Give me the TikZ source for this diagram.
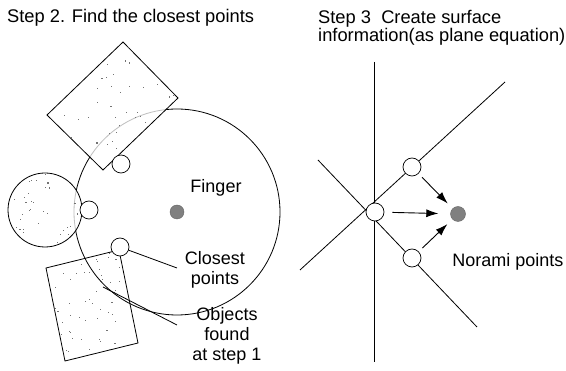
\documentclass[tikz,border=0pt]{standalone}
\usepackage{fontspec}
\setmainfont{Liberation Sans}
\usetikzlibrary{arrows.meta}
\begin{document}
\begin{tikzpicture}[x=1pt,y=-1pt,
  obj/.style={draw=black, line width=0.8pt, fill=white, fill opacity=0.75},
  cp/.style={circle, draw, fill=white, minimum size=18pt, inner sep=0pt, line width=0.7pt},
  fdot/.style={circle, fill=black!50, draw=black!60, minimum size=15pt, inner sep=0pt},
  lbl/.style={font=\fontsize{18}{20}\selectfont, align=center, inner sep=0pt},
  ttl/.style={font=\fontsize{18.3}{18.5}\selectfont, align=left, inner sep=0pt},
  ln/.style={line width=0.8pt},
  speck/.style={fill=black!55},
  arr/.style={line width=0.9pt, -{Latex[length=12pt,width=8pt]}}]
\useasboundingbox (0,0) rectangle (566,371);
\pgfmathsetseed{7}
% ---------- titles
\node[ttl, anchor=base west] (t1) at (7,23) {Step 2. Find the closest points};
\node[ttl, anchor=north west] (t2) at (318,10) {Step 3\ \ Create surface\\information(as plane equation)};
% ---------- left: objects and finger
\node[fdot, minimum size=14pt] (finger) at (177,212) {};
\draw[obj] (46,268) -- (119,250) -- (138,343) -- (65,361) -- cycle;
\begin{scope}
\clip (46,268) -- (119,250) -- (138,343) -- (65,361) -- cycle;
\foreach \i in {1,...,70} {\fill[speck] (92+46*rand,305+56*rand) rectangle ++(1.1,1.1);}
\end{scope}
\draw[ln] (finger) circle (103pt);
\draw[obj] (123,42) -- (178,98) -- (103,170) -- (47,115) -- cycle;
\begin{scope}
\clip (123,42) -- (178,98) -- (103,170) -- (47,115) -- cycle;
\foreach \i in {1,...,80} {\fill[speck] (112+66*rand,106+64*rand) rectangle ++(1.1,1.1);}
\end{scope}
\draw[obj] (45,210) circle (37pt);
\begin{scope}
\clip (45,210) circle (36pt);
\foreach \i in {1,...,45} {\fill[speck] (45+37*rand,210+37*rand) rectangle ++(1.1,1.1);}
\end{scope}
\node[cp] (cp1) at (121,164) {};
\node[cp] (cp2) at (89,210) {};
\node[cp] (cp3) at (120,247) {};
\node[lbl] (lfinger) at (216,188) {Finger};
\node[lbl] (lclosest) at (215,270) {Closest\\points};
\node[lbl] (lobj) at (227,336) {Objects\\found\\at step 1};
\coordinate (lc1) at (177,268);
\coordinate (o1) at (103,287);
\coordinate (o2) at (177,325);
\draw[ln] (cp3) -- (lc1);
\draw[ln] (o1) -- (o2);
% ---------- right: planes
\coordinate (vt) at (374,62);
\coordinate (vb) at (374,362);
\coordinate (a1) at (505,82);
\coordinate (a2) at (300,270);
\coordinate (b1) at (318,160);
\coordinate (b2) at (477,327);
\draw[ln] (vt) -- (vb);
\draw[ln] (a1) -- (a2);
\draw[ln] (b1) -- (b2);
\node[cp] (p1) at (412,167) {};
\node[cp] (p2) at (375,212) {};
\node[cp] (p3) at (412,258) {};
\node[fdot] (n) at (458,214) {};
\draw[arr, shorten <=8pt, shorten >=12pt] (p2) -- (n);
\draw[arr, shorten <=5pt, shorten >=7pt] (p1) -- (n);
\draw[arr, shorten <=5pt, shorten >=7pt] (p3) -- (n);
\node[lbl] (lnorm) at (508,262) {Norami points};
\end{tikzpicture}
\end{document}
